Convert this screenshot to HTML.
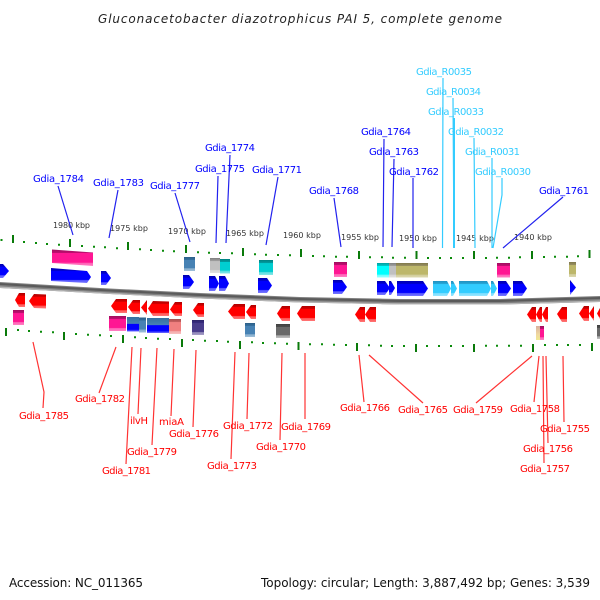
<!DOCTYPE html>
<html><head><meta charset="utf-8"><style>
html,body{margin:0;padding:0;background:#fff;width:600px;height:600px;overflow:hidden}
svg{display:block}
text{font-family:"DejaVu Sans","Liberation Sans",sans-serif}
.l{font-size:10px}
.b{fill:#0000ff}.c{fill:#33ccff}.r{fill:#ff0000}
.k{font-size:8px;fill:#333}
</style></head><body>
<svg width="600" height="600" viewBox="0 0 600 600" xmlns="http://www.w3.org/2000/svg">
<defs>
<filter id="soft" x="-5%" y="-5%" width="110%" height="110%"><feGaussianBlur stdDeviation="0.35"/></filter>
<linearGradient id="back" x1="0" y1="0" x2="0" y2="1"><stop offset="0" stop-color="#999"/><stop offset=".3" stop-color="#555"/><stop offset=".6" stop-color="#777"/><stop offset="1" stop-color="#bbb"/></linearGradient>
<linearGradient id="gb" x1="0" y1="0" x2="0" y2="1"><stop offset="0" stop-color="#0000b0"/><stop offset=".18" stop-color="#0000d0"/><stop offset=".22" stop-color="#0000ff"/><stop offset=".78" stop-color="#0000ff"/><stop offset=".82" stop-color="#5555ff"/><stop offset="1" stop-color="#7777ff"/></linearGradient>
<linearGradient id="gr" x1="0" y1="0" x2="0" y2="1"><stop offset="0" stop-color="#b00000"/><stop offset=".18" stop-color="#d00000"/><stop offset=".22" stop-color="#ff0000"/><stop offset=".78" stop-color="#ff0000"/><stop offset=".82" stop-color="#ff5555"/><stop offset="1" stop-color="#ff7777"/></linearGradient>
<linearGradient id="gc" x1="0" y1="0" x2="0" y2="1"><stop offset="0" stop-color="#2090c0"/><stop offset=".2" stop-color="#28a8d8"/><stop offset=".22" stop-color="#33ccff"/><stop offset=".78" stop-color="#33ccff"/><stop offset=".82" stop-color="#77ddff"/><stop offset="1" stop-color="#99e6ff"/></linearGradient>
<linearGradient id="pk" x1="0" y1="0" x2="0" y2="1"><stop offset="0" stop-color="#a0105e"/><stop offset=".2" stop-color="#c01070"/><stop offset=".22" stop-color="#ff1493"/><stop offset=".78" stop-color="#ff1493"/><stop offset=".82" stop-color="#ff60b4"/><stop offset="1" stop-color="#ff80c4"/></linearGradient>
<linearGradient id="st" x1="0" y1="0" x2="0" y2="1"><stop offset="0" stop-color="#2c5f88"/><stop offset=".2" stop-color="#36709e"/><stop offset=".22" stop-color="#4682b4"/><stop offset=".78" stop-color="#4682b4"/><stop offset=".82" stop-color="#84abcc"/><stop offset="1" stop-color="#a0c0d8"/></linearGradient>
<linearGradient id="te" x1="0" y1="0" x2="0" y2="1"><stop offset="0" stop-color="#008080"/><stop offset=".2" stop-color="#009ca0"/><stop offset=".22" stop-color="#00ced1"/><stop offset=".78" stop-color="#00ced1"/><stop offset=".82" stop-color="#55dde0"/><stop offset="1" stop-color="#88e8e8"/></linearGradient>
<linearGradient id="cy" x1="0" y1="0" x2="0" y2="1"><stop offset="0" stop-color="#00a0a0"/><stop offset=".2" stop-color="#00c8c8"/><stop offset=".22" stop-color="#00ffff"/><stop offset=".78" stop-color="#00ffff"/><stop offset=".82" stop-color="#66ffff"/><stop offset="1" stop-color="#99ffff"/></linearGradient>
<linearGradient id="gy" x1="0" y1="0" x2="0" y2="1"><stop offset="0" stop-color="#808080"/><stop offset=".2" stop-color="#a0a0a0"/><stop offset=".22" stop-color="#c0c0c0"/><stop offset=".78" stop-color="#c0c0c0"/><stop offset=".82" stop-color="#d5d5d5"/><stop offset="1" stop-color="#e0e0e0"/></linearGradient>
<linearGradient id="ol" x1="0" y1="0" x2="0" y2="1"><stop offset="0" stop-color="#80784c"/><stop offset=".2" stop-color="#989060"/><stop offset=".22" stop-color="#bdb76b"/><stop offset=".78" stop-color="#bdb76b"/><stop offset=".82" stop-color="#d0cc98"/><stop offset="1" stop-color="#dcd8b0"/></linearGradient>
<linearGradient id="sa" x1="0" y1="0" x2="0" y2="1"><stop offset="0" stop-color="#a85050"/><stop offset=".2" stop-color="#c86060"/><stop offset=".22" stop-color="#f08080"/><stop offset=".78" stop-color="#f08080"/><stop offset=".82" stop-color="#f4a8a8"/><stop offset="1" stop-color="#f8c0c0"/></linearGradient>
<linearGradient id="nv" x1="0" y1="0" x2="0" y2="1"><stop offset="0" stop-color="#2c2468"/><stop offset=".2" stop-color="#372c80"/><stop offset=".22" stop-color="#483d8b"/><stop offset=".78" stop-color="#483d8b"/><stop offset=".82" stop-color="#8a82b4"/><stop offset="1" stop-color="#a8a0c8"/></linearGradient>
<linearGradient id="dg" x1="0" y1="0" x2="0" y2="1"><stop offset="0" stop-color="#404040"/><stop offset=".2" stop-color="#4c4c4c"/><stop offset=".22" stop-color="#696969"/><stop offset=".78" stop-color="#696969"/><stop offset=".82" stop-color="#a0a0a0"/><stop offset="1" stop-color="#c0c0c0"/></linearGradient>
<linearGradient id="mix" x1="0" y1="0" x2="0" y2="1"><stop offset="0" stop-color="#36709e"/><stop offset=".45" stop-color="#4682b4"/><stop offset=".5" stop-color="#0000ff"/><stop offset=".85" stop-color="#0000ff"/><stop offset="1" stop-color="#7777ff"/></linearGradient>
<linearGradient id="kp" x1="0" y1="0" x2="0" y2="1"><stop offset="0" stop-color="#d8b0a0"/><stop offset=".6" stop-color="#f0d8a0"/><stop offset="1" stop-color="#f0e890"/></linearGradient>
</defs>

<text x="98" y="23" font-size="12" font-style="italic" textLength="404" lengthAdjust="spacing" fill="#222">Gluconacetobacter diazotrophicus PAI 5, complete genome</text>

<!-- dots top -->
<path fill="none" stroke="#0a8a0a" stroke-width="2" d="M0.500 240h2M23 242h2M35 243h2M46 244h2M58 244.700h2M81 246h2M93 246.700h2M104 247.300h2M116 248.300h2M139 249.300h2M150 250h2M162 250.700h2M173 251.300h2M197 252.300h2M208 252.700h2M219 253h2M231 253.300h2M254 254.300h2M265 254.700h2M277 255h2M289 255.300h2M312 256h2M323 256.300h2M335 256.700h2M346 256.700h2M369 257.300h2M381 257.300h2M392 257.700h2M404 257.700h2M427 258h2M439 258h2M450 258h2M462 258h2M485 258h2M496 257.700h2M508 257.700h2M519 257.300h2M543 257h2M554 256.700h2M566 256.700h2M577 256.300h2"/>
<!-- ticks top -->
<path fill="none" stroke="#0a7a0a" stroke-width="2" d="M13 235v8M70 239v8M128 242v8M186 245v8M243 248v8M301 249v8M359 251v8M416.500 251v8M474 251v8M532 251v8M589.500 250v8"/>
<!-- dots bottom -->
<path fill="none" stroke="#0a8a0a" stroke-width="2" d="M17 330h2M28 331h2M40 331.700h2M52 332.300h2M75 334h2M87 334.700h2M99 335.300h2M110 336h2M134 337.300h2M145 338h2M157 338.700h2M169 339h2M192 340h2M204 340.700h2M216 341h2M227 341.700h2M251 342.300h2M262 343h2M274 343.300h2M286 343.700h2M309 344.300h2M321 344.300h2M333 344.700h2M345 345h2M368 345.300h2M380 345.700h2M391 346h2M403 346h2M426 346h2M438 346h2M450 346h2M462 346h2M485 345.700h2M496 345.700h2M508 345.700h2M520 345.700h2M544 345h2M556 345h2M567 345h2M579 345h2"/>
<!-- ticks bottom -->
<path fill="none" stroke="#0a7a0a" stroke-width="2" d="M6 328v8M64 332v8M123 335v8M182 339v8M240 341v8M298.500 342v8M357 343v8M416 344v8M474 344v8M533 344v8M592 343v8"/>

<!-- kbp labels -->
<g class="k">
<text class="k" x="53" y="228" textLength="37">1980 kbp</text>
<text class="k" x="110" y="231" textLength="38">1975 kbp</text>
<text class="k" x="168" y="234" textLength="38">1970 kbp</text>
<text class="k" x="226" y="236" textLength="38">1965 kbp</text>
<text class="k" x="283" y="238" textLength="38">1960 kbp</text>
<text class="k" x="341" y="240" textLength="38">1955 kbp</text>
<text class="k" x="399" y="241" textLength="38">1950 kbp</text>
<text class="k" x="456" y="241" textLength="38">1945 kbp</text>
<text class="k" x="514" y="240" textLength="38">1940 kbp</text>
</g>

<!-- backbone -->
<g filter="url(#soft)">
<path d="M0 282 L100 288 L200 293 L300 297 L400 299 L500 299 L600 296 L600 302 L500 304.500 L400 304.500 L300 302.500 L200 298.500 L100 293.500 L0 288Z" fill="#808080"/>
<path d="M0 283 L100 289 L200 294 L300 298 L400 300 L500 300 L600 297 L600 299 L500 302 L400 302 L300 300 L200 296 L100 291 L0 285Z" fill="#5a5a5a"/>
<path d="M0 286.500 L100 292.300 L200 297.300 L300 301.300 L400 303.300 L500 303.300 L600 300.500 L600 302 L500 304.500 L400 304.500 L300 302.500 L200 298.500 L100 293.500 L0 288Z" fill="#b5b5b5"/>
</g>

<!-- connector lines blue -->
<g fill="none" stroke-width="1.2">
<g stroke="#2222ee">
<path d="M58 186L73 235M118 190L109 238M175 193L190 242M218 176L216 243M230 155L226 243M278 177L266 245M334 198L341 247M384 139L383 247M394 159L392 247M413 178L413 248M563 197L503 248"/>
</g>
<g stroke="#33ccff">
<path d="M443 78L442.500 248M453 98L454 248M474 138L475 248M492 158L492 248M502 178L502 195L493 248"/>
<path d="M454 118L454 248" stroke-width="2"/>
</g>
<g stroke="#ff3333">
<path d="M33 342L44 392L43 408M116 347L99 393M132 347L126 464M141 348L138 414M157 348L152 445M174 349L171 416M196 350L193 427M235 352L231 459M249 353L247 419M282 353L280 440M305 353L305 419M359 355L364 402M369 355L423 403M532 356L476 403M539 356L534 402M543 356L544 463M546 356L548 443M563 356L564 422"/>
</g>
</g>

<g filter="url(#soft)">
<!-- top features -->
<polygon points="52,249.500 93,252.500 93,266 52,263" fill="url(#pk)"/>
<polygon points="184,257 195,257 195,271 184,271" fill="url(#st)"/>
<polygon points="210,258 220,258 220,273 210,273" fill="url(#gy)"/>
<polygon points="220,259 230,259 230,273.500 220,273.500" fill="url(#te)"/>
<polygon points="259,260 273,260 273,275 259,275" fill="url(#te)"/>
<polygon points="334,262 347,262 347,277 334,277" fill="url(#pk)"/>
<polygon points="377,263 389,263 389,277.500 377,277.500" fill="url(#cy)"/>
<polygon points="389,263 396,263 396,277.500 389,277.500" fill="url(#gy)"/>
<polygon points="396,263 428,263 428,277.500 396,277.500" fill="url(#ol)"/>
<polygon points="497,263 510,263 510,277.500 497,277.500" fill="url(#pk)"/>
<polygon points="569,262 576,262 576,277 569,277" fill="url(#ol)"/>

<!-- top arrows -->
<g fill="url(#gb)">
<polygon points="0,264 3,264 9,271 3,278 0,278"/>
<polygon points="51,268 87,271 91,277 87,283 51,281"/>
<polygon points="101,271 106,271 111,278 106,285 101,285"/>
<polygon points="183,275 189,275 194,282 189,289 183,289"/>
<polygon points="209,276 215,276 219,283.500 215,291 209,291"/>
<polygon points="219,276 225,276 229,283.500 225,291 219,291"/>
<polygon points="258,278 267,278 272,285.500 267,293 258,293"/>
<polygon points="333,280 342,280 347,287 342,294 333,294"/>
<polygon points="377,281 385,281 390,288 385,295 377,295"/>
<polygon points="389,281 391,281 395,288 391,295 389,295"/>
<polygon points="397,281 423,281 428,288.500 423,296 397,296"/>
<polygon points="498,281 506,281 511,288.500 506,296 498,296"/>
<polygon points="513,281 522,281 527,288.500 522,296 513,296"/>
<polygon points="570,280 576,287.500 570,295"/>
</g>
<g fill="url(#gc)">
<polygon points="433,281 447,281 451,288.500 447,296 433,296"/>
<polygon points="451,281 453,281 457,288.500 453,296 451,296"/>
<polygon points="459,281 487,281 491,288.500 487,296 459,296"/>
<polygon points="491,281 493,281 497,288.500 493,296 491,296"/>
</g>

<!-- bottom arrows -->
<g fill="url(#gr)">
<polygon points="15,300 19,293 25,293 25,307 19,307"/>
<polygon points="29,301 34,294 46,294.500 46,308.500 34,308"/>
<polygon points="111,306 116,299 127,299 127,313 116,313"/>
<polygon points="128,307 133,300 140,300 140,314 133,314"/>
<polygon points="141,307.500 147,300 147,315"/>
<polygon points="148,308.500 153,301 169,301.500 169,316 153,316"/>
<polygon points="170,309.500 175,302 182,302 182,316 175,316"/>
<polygon points="193,310 198,303 204,303 204,317 198,317"/>
<polygon points="228,311.500 234,304 245,304 245,319 234,319"/>
<polygon points="246,312 251,305 256,305 256,319 251,319"/>
<polygon points="277,313.500 282,306 290,306 290,321 282,321"/>
<polygon points="297,313.500 302,306 315,306 315,321 302,321"/>
<polygon points="355,314.500 360,307 365,307 365,322 360,322"/>
<polygon points="365,314.500 370,307 376,307 376,322 370,322"/>
<polygon points="527,314.500 532,307 536,307 536,322 532,322"/>
<polygon points="536,314.500 540,307 542,307 542,322 540,322"/>
<polygon points="542,314.500 546,307 548,307 548,322 546,322"/>
<polygon points="557,314 562,307 567,307 567,322 562,322"/>
<polygon points="579,313.500 584,306 589,306 589,321 584,321"/>
<polygon points="589,313.500 594,306 594,321"/>
<polygon points="597,313.500 600,308 600,319"/>
</g>

<!-- bottom boxes -->
<polygon points="13,310 24,310 24,325 13,325" fill="url(#pk)"/>
<polygon points="109,316 126,316 126,331 109,331" fill="url(#pk)"/>
<polygon points="127,317 139,317 139,331.500 127,331.500" fill="url(#mix)"/>
<polygon points="139,317.500 146,317.500 146,332.500 139,332.500" fill="url(#st)"/>
<polygon points="147,318 169,318 169,333 147,333" fill="url(#mix)"/>
<polygon points="169,319 181,319 181,334 169,334" fill="url(#sa)"/>
<polygon points="192,320 204,320 204,335 192,335" fill="url(#nv)"/>
<polygon points="245,323 255,323 255,337 245,337" fill="url(#st)"/>
<polygon points="276,324 290,324 290,338 276,338" fill="url(#dg)"/>
<polygon points="536,326 540,326 540,340 536,340" fill="url(#kp)"/>
<polygon points="540,326 544,326 544,340 540,340" fill="url(#pk)"/>
<polygon points="597,325 600,325 600,339 597,339" fill="url(#dg)"/>
</g>

<!-- labels -->
<g class="l">
<text class="b" x="33" y="182" textLength="51">Gdia_1784</text>
<text class="b" x="93" y="186" textLength="51">Gdia_1783</text>
<text class="b" x="150" y="189" textLength="50">Gdia_1777</text>
<text class="b" x="195" y="172" textLength="50">Gdia_1775</text>
<text class="b" x="205" y="151" textLength="50">Gdia_1774</text>
<text class="b" x="252" y="173" textLength="50">Gdia_1771</text>
<text class="b" x="309" y="194" textLength="50">Gdia_1768</text>
<text class="b" x="361" y="135" textLength="50">Gdia_1764</text>
<text class="b" x="369" y="155" textLength="50">Gdia_1763</text>
<text class="b" x="389" y="175" textLength="50">Gdia_1762</text>
<text class="b" x="539" y="194" textLength="50">Gdia_1761</text>
<text class="c" x="416" y="75" textLength="56">Gdia_R0035</text>
<text class="c" x="426" y="95" textLength="55">Gdia_R0034</text>
<text class="c" x="428" y="115" textLength="56">Gdia_R0033</text>
<text class="c" x="448" y="135" textLength="56">Gdia_R0032</text>
<text class="c" x="465" y="155" textLength="55">Gdia_R0031</text>
<text class="c" x="475" y="175" textLength="56">Gdia_R0030</text>
<text class="r" x="19" y="419" textLength="50">Gdia_1785</text>
<text class="r" x="75" y="402" textLength="50">Gdia_1782</text>
<text class="r" x="130" y="424" textLength="18">ilvH</text>
<text class="r" x="127" y="455" textLength="50">Gdia_1779</text>
<text class="r" x="102" y="474" textLength="49">Gdia_1781</text>
<text class="r" x="159" y="425" textLength="25">miaA</text>
<text class="r" x="169" y="437" textLength="50">Gdia_1776</text>
<text class="r" x="207" y="469" textLength="50">Gdia_1773</text>
<text class="r" x="223" y="429" textLength="50">Gdia_1772</text>
<text class="r" x="256" y="450" textLength="50">Gdia_1770</text>
<text class="r" x="281" y="430" textLength="50">Gdia_1769</text>
<text class="r" x="340" y="411" textLength="50">Gdia_1766</text>
<text class="r" x="398" y="413" textLength="50">Gdia_1765</text>
<text class="r" x="453" y="413" textLength="50">Gdia_1759</text>
<text class="r" x="510" y="412" textLength="50">Gdia_1758</text>
<text class="r" x="540" y="432" textLength="50">Gdia_1755</text>
<text class="r" x="523" y="452" textLength="50">Gdia_1756</text>
<text class="r" x="520" y="472" textLength="50">Gdia_1757</text>
</g>

<text x="9" y="587" font-size="12" textLength="134" fill="#111">Accession: NC_011365</text>
<text x="261" y="587" font-size="12" textLength="329" fill="#111">Topology: circular; Length: 3,887,492 bp; Genes: 3,539</text>
</svg>
</body></html>
